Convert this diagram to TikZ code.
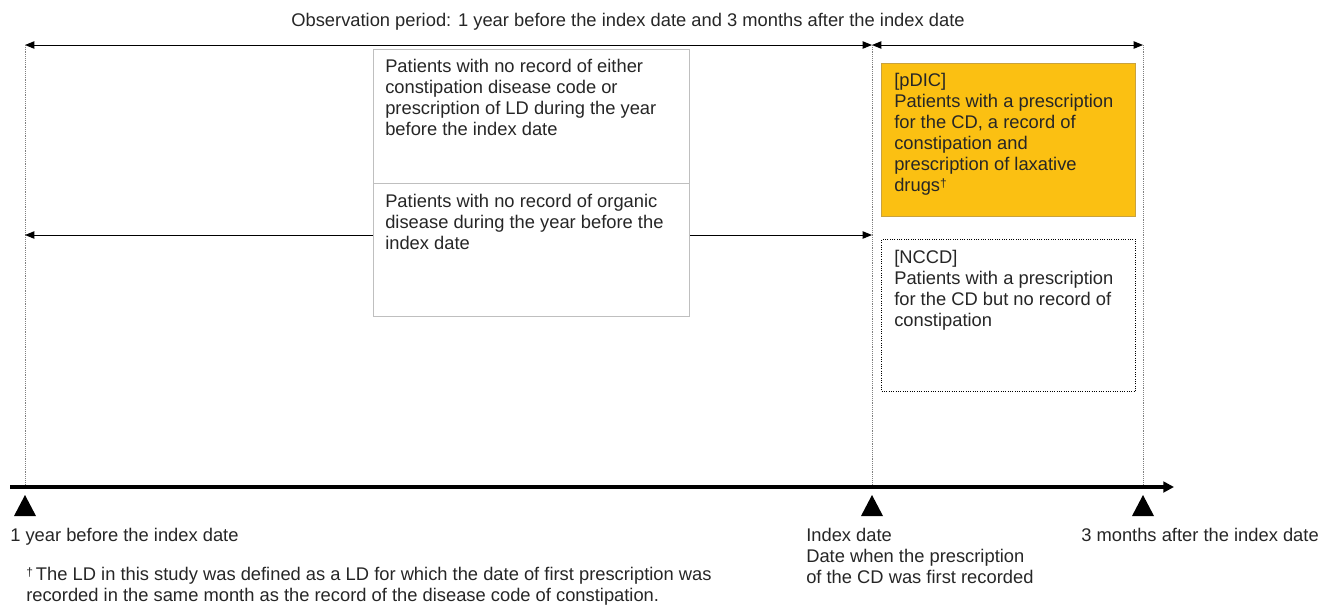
\documentclass[tikz,border=0pt]{standalone}
\usepackage{fontspec}
\setmainfont{Liberation Sans}
\usepackage{xcolor}
\usetikzlibrary{arrows.meta,positioning,calc}
\definecolor{pdicfill}{HTML}{FBC012}
\definecolor{pdicedge}{HTML}{C9A23E}
\definecolor{celledge}{HTML}{BFBFBF}
\definecolor{txt}{HTML}{262626}

\begin{document}
\begin{tikzpicture}[x=0.75pt, y=-0.75pt,
  every node/.style={font=\fontsize{13.75}{15.75}\selectfont, text=txt},
  span/.style={line width=0.75pt,
    {Triangle[length=7pt,width=5.5pt]}-{Triangle[length=7pt,width=5.5pt]}},
  guide/.style={densely dotted, gray, line width=0.4pt},
  cell/.style={draw=celledge, line width=0.75pt, fill=white, anchor=north west,
    inner sep=0pt},
  celltext/.style={anchor=north west, align=left, inner sep=0pt},
  caption/.style={anchor=north west, align=left, inner sep=0pt},
]
\useasboundingbox (0,0) rectangle (1329,608);

% --- Time points ---
\coordinate (start) at (25,487);
\coordinate (index) at (872,487);
\coordinate (end) at (1143,487);
\coordinate (axisL) at (10,487);
\coordinate (axisR) at (1174,487);
\coordinate (topL) at (25,45);
\coordinate (topM) at (872,45);
\coordinate (topR) at (1143,45);
\coordinate (midL) at (25,235);
\coordinate (midR) at (872,235);

% --- Observation period ---
\node (title) at (628,22) {Observation period: 1 year before the index date and 3 months after the index date};
\draw[span] (topL) -- (topM);
\draw[span] (topM) -- (topR);
\draw[guide] (topL) -- (start);
\draw[guide] (topM) -- (index);
\draw[guide] (topR) -- (end);
\draw[span] (midL) -- (midR);

% --- Exclusion criteria ---
\node[cell, minimum width=237pt, minimum height=100.5pt] (nolax) at (373,49) {};
\node[celltext] (nolaxtext) at (385,59)
  {Patients with no record of either\\constipation disease code or\\prescription of LD during the year\\before the index date};
\node[cell, minimum width=237pt, minimum height=99.75pt] (noorg) at (373,183) {};
\node[celltext] (noorgtext) at (385,194)
  {Patients with no record of organic\\disease during the year before the\\index date};

% --- Groups ---
\node[cell, draw=pdicedge, fill=pdicfill, minimum width=190.5pt, minimum height=114.75pt] (pdic) at (881,63) {};
\node[celltext] (pdictext) at (894,73)
  {[pDIC]\\Patients with a prescription\\for the CD, a record of\\constipation and\\prescription of laxative\\drugs{\fontsize{9}{9}\selectfont\raisebox{0.6ex}{†}}};
\node[cell, draw=black, densely dotted, line width=1.1pt, minimum width=190.5pt, minimum height=114pt] (nccd) at (881,239) {};
\node[celltext] (nccdtext) at (894,250)
  {[NCCD]\\Patients with a prescription\\for the CD but no record of\\constipation};

% --- Timeline ---
\draw[line width=3pt, -{Triangle[length=8pt,width=8pt]}] (axisL) -- (axisR);
\foreach \p in {start,index,end}
  \fill ($(\p)+(0,8)$) -- ++(11,21) -- ++(-22,0) -- cycle;

\node[caption] (startlabel) at (10,528) {1 year before the index date};
\node[caption] (indexlabel) at (806,528) {Index date\\Date when the prescription\\of the CD was first recorded};
\node[caption] (endlabel) at (1081,528) {3 months after the index date};

% Footnote
\node[caption, font=\fontsize{13.75}{16}\selectfont] (note) at (26,567)
  {{\fontsize{9}{9}\selectfont\raisebox{0.6ex}{†}}\,The LD in this study was defined as a LD for which the date of first prescription was\\recorded in the same month as the record of the disease code of constipation.};
\end{tikzpicture}
\end{document}
